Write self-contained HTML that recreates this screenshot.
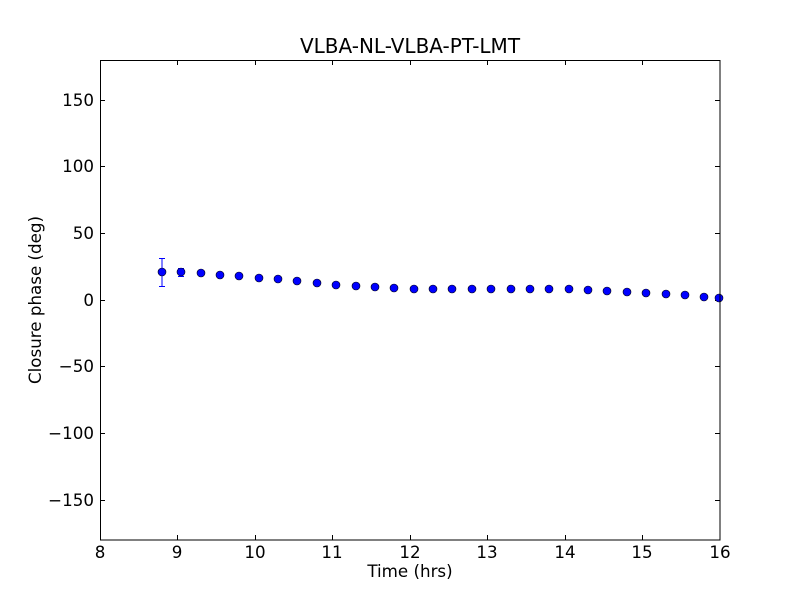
<!DOCTYPE html>
<html><head><style>body{margin:0;background:#fff}svg{display:block}text{font-family:"DejaVu Sans","Liberation Sans",sans-serif;fill:#000}</style></head>
<body>
<svg width="800" height="600" viewBox="0 0 800 600" xmlns="http://www.w3.org/2000/svg">
<rect width="800" height="600" fill="#fff"/>
<text x="410" y="53" font-size="20" text-anchor="middle">VLBA-NL-VLBA-PT-LMT</text>
<g stroke="#000" stroke-width="1">
<line x1="100.5" y1="100.5" x2="105" y2="100.5"/><line x1="715" y1="100.5" x2="720" y2="100.5"/>
<line x1="100.5" y1="166.5" x2="105" y2="166.5"/><line x1="715" y1="166.5" x2="720" y2="166.5"/>
<line x1="100.5" y1="233.5" x2="105" y2="233.5"/><line x1="715" y1="233.5" x2="720" y2="233.5"/>
<line x1="100.5" y1="300.5" x2="105" y2="300.5"/><line x1="715" y1="300.5" x2="720" y2="300.5"/>
<line x1="100.5" y1="366.5" x2="105" y2="366.5"/><line x1="715" y1="366.5" x2="720" y2="366.5"/>
<line x1="100.5" y1="433.5" x2="105" y2="433.5"/><line x1="715" y1="433.5" x2="720" y2="433.5"/>
<line x1="100.5" y1="500.5" x2="105" y2="500.5"/><line x1="715" y1="500.5" x2="720" y2="500.5"/>
<line x1="177.5" y1="60" x2="177.5" y2="65"/><line x1="177.5" y1="535" x2="177.5" y2="540"/>
<line x1="255.5" y1="60" x2="255.5" y2="65"/><line x1="255.5" y1="535" x2="255.5" y2="540"/>
<line x1="332.5" y1="60" x2="332.5" y2="65"/><line x1="332.5" y1="535" x2="332.5" y2="540"/>
<line x1="410.5" y1="60" x2="410.5" y2="65"/><line x1="410.5" y1="535" x2="410.5" y2="540"/>
<line x1="487.5" y1="60" x2="487.5" y2="65"/><line x1="487.5" y1="535" x2="487.5" y2="540"/>
<line x1="565.5" y1="60" x2="565.5" y2="65"/><line x1="565.5" y1="535" x2="565.5" y2="540"/>
<line x1="642.5" y1="60" x2="642.5" y2="65"/><line x1="642.5" y1="535" x2="642.5" y2="540"/>
</g>
<g font-size="16.7" text-anchor="end">
<text x="94" y="106">150</text><text x="94" y="172">100</text><text x="94" y="239">50</text><text x="94" y="306">0</text>
<text x="94" y="372">−50</text><text x="94" y="439">−100</text><text x="94" y="506">−150</text>
</g>
<g font-size="16.7" text-anchor="middle">
<text x="100" y="558">8</text><text x="177" y="558">9</text><text x="255" y="558">10</text><text x="332" y="558">11</text><text x="410" y="558">12</text><text x="487" y="558">13</text><text x="565" y="558">14</text><text x="642" y="558">15</text><text x="720" y="558">16</text>
</g>
<text x="410" y="577" font-size="16.7" text-anchor="middle">Time (hrs)</text>
<text transform="translate(41,300) rotate(-90)" font-size="16.7" text-anchor="middle">Closure phase (deg)</text>
<g stroke="#00f" stroke-width="1">
<line x1="162" y1="258" x2="162" y2="286"/><line x1="159" y1="258.5" x2="165" y2="258.5"/><line x1="159" y1="286.5" x2="165" y2="286.5"/>
<line x1="181" y1="268" x2="181" y2="276"/><line x1="178" y1="268.5" x2="184" y2="268.5"/><line x1="178" y1="276.5" x2="184" y2="276.5"/>
</g>
<g fill="#00f" stroke="#000" stroke-width="0.6">
<circle cx="162" cy="272" r="4"/><circle cx="181" cy="272" r="4"/><circle cx="201" cy="273" r="4"/><circle cx="220" cy="275" r="4"/><circle cx="239" cy="276" r="4"/><circle cx="259" cy="278" r="4"/><circle cx="278" cy="279" r="4"/><circle cx="297" cy="281" r="4"/><circle cx="317" cy="283" r="4"/><circle cx="336" cy="285" r="4"/><circle cx="356" cy="286" r="4"/><circle cx="375" cy="287" r="4"/><circle cx="394" cy="288" r="4"/><circle cx="414" cy="289" r="4"/><circle cx="433" cy="289" r="4"/><circle cx="452" cy="289" r="4"/><circle cx="472" cy="289" r="4"/><circle cx="491" cy="289" r="4"/><circle cx="511" cy="289" r="4"/><circle cx="530" cy="289" r="4"/><circle cx="549" cy="289" r="4"/><circle cx="569" cy="289" r="4"/><circle cx="588" cy="290" r="4"/><circle cx="607" cy="291" r="4"/><circle cx="627" cy="292" r="4"/><circle cx="646" cy="293" r="4"/><circle cx="666" cy="294" r="4"/><circle cx="685" cy="295" r="4"/><circle cx="704" cy="297" r="4"/><circle cx="719" cy="298" r="4"/>
</g>
<rect x="100.5" y="60.5" width="619.5" height="479.5" fill="none" stroke="#000" stroke-width="1"/>
</svg>
</body></html>
